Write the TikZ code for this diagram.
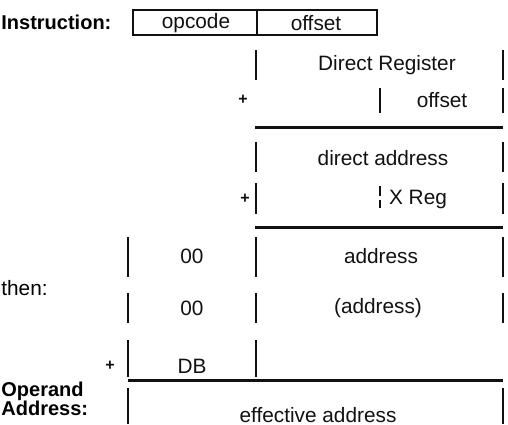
\documentclass[tikz,border=0pt]{standalone}
\usepackage{fontspec}
\setmainfont{Liberation Sans}
\usetikzlibrary{positioning}
\definecolor{inkline}{HTML}{111111}
\definecolor{inktext}{HTML}{111111}
\tikzset{
  bar/.style={draw=inkline, line width=1pt},
  sumrule/.style={draw=inkline, line width=1.5pt},
  tag/.style={anchor=west, inner sep=0pt, font=\bfseries},
  fieldtxt/.style={inner sep=1pt, text=inktext},
  plussign/.style={inner sep=0pt, text=inktext, font=\bfseries\fontsize{8}{9}\selectfont}
}
\newcommand{\fieldbar}[3]{%
  \draw[bar] (#1,#2) -- (#1,#3);}

\begin{document}
\begin{tikzpicture}[x=0.5pt, y=-0.5pt, font=\fontsize{10.4}{12}\selectfont]
  \useasboundingbox (0,0) rectangle (508,424);
  % instruction word
  \node[tag] (instr) at (1,22) {Instruction:};
  \draw[bar] (133,10) rectangle (377,35);
  \fieldbar{257}{10}{35}
  \node[fieldtxt] (opc) at (196,23) {opcode};
  \node[fieldtxt] (off) at (316,23) {offset};
  % direct register + offset
  \fieldbar{256}{50}{80}
  \fieldbar{503}{50}{80}
  \node[fieldtxt] (dreg) at (387,65) {Direct Register};
  \node[plussign] (plusa) at (243,100) {+};
  \fieldbar{380}{88}{113}
  \fieldbar{503}{88}{113}
  \node[fieldtxt] (offb) at (442,100) {offset};
  \draw[sumrule] (255,127) -- (503,127);
  % direct address + X
  \fieldbar{256}{142}{172}
  \fieldbar{503}{142}{172}
  \node[fieldtxt] (daddr) at (383,158) {direct address};
  \node[plussign] (plusb) at (245,199) {+};
  \fieldbar{256}{183}{214}
  \draw[bar, line width=1.4pt, dash pattern=on 5pt off 2pt] (380,186) -- (380,208);
  \fieldbar{503}{183}{214}
  \node[fieldtxt] (xreg) at (418,199) {X Reg};
  \draw[sumrule] (255,227) -- (503,227);
  % address
  \fieldbar{128}{237}{277}
  \fieldbar{256}{237}{277}
  \fieldbar{503}{237}{277}
  \node[fieldtxt] (zeroa) at (192,256) {00};
  \node[fieldtxt] (addr) at (381,256) {address};
  \node[anchor=west, inner sep=0pt] (then) at (1,288) {then:};
  % indirect + DB
  \fieldbar{128}{293}{323}
  \fieldbar{256}{293}{323}
  \fieldbar{503}{293}{323}
  \node[fieldtxt] (zerob) at (192,308) {00};
  \node[fieldtxt] (iaddr) at (378,308) {(address)};
  \node[plussign] (plusc) at (110,366) {+};
  \fieldbar{128}{340}{377}
  \fieldbar{256}{340}{377}
  \node[fieldtxt] (dbank) at (192,366) {DB};
  \draw[sumrule] (128,380) -- (503,380);
  % result
  \node[tag] (opnd) at (1,391) {Operand};
  \node[tag] (opaddr) at (1,408) {Address:};
  \fieldbar{128}{388}{424}
  \fieldbar{503}{388}{424}
  \node[fieldtxt] (eaddr) at (318,415) {effective address};
\end{tikzpicture}
\end{document}
